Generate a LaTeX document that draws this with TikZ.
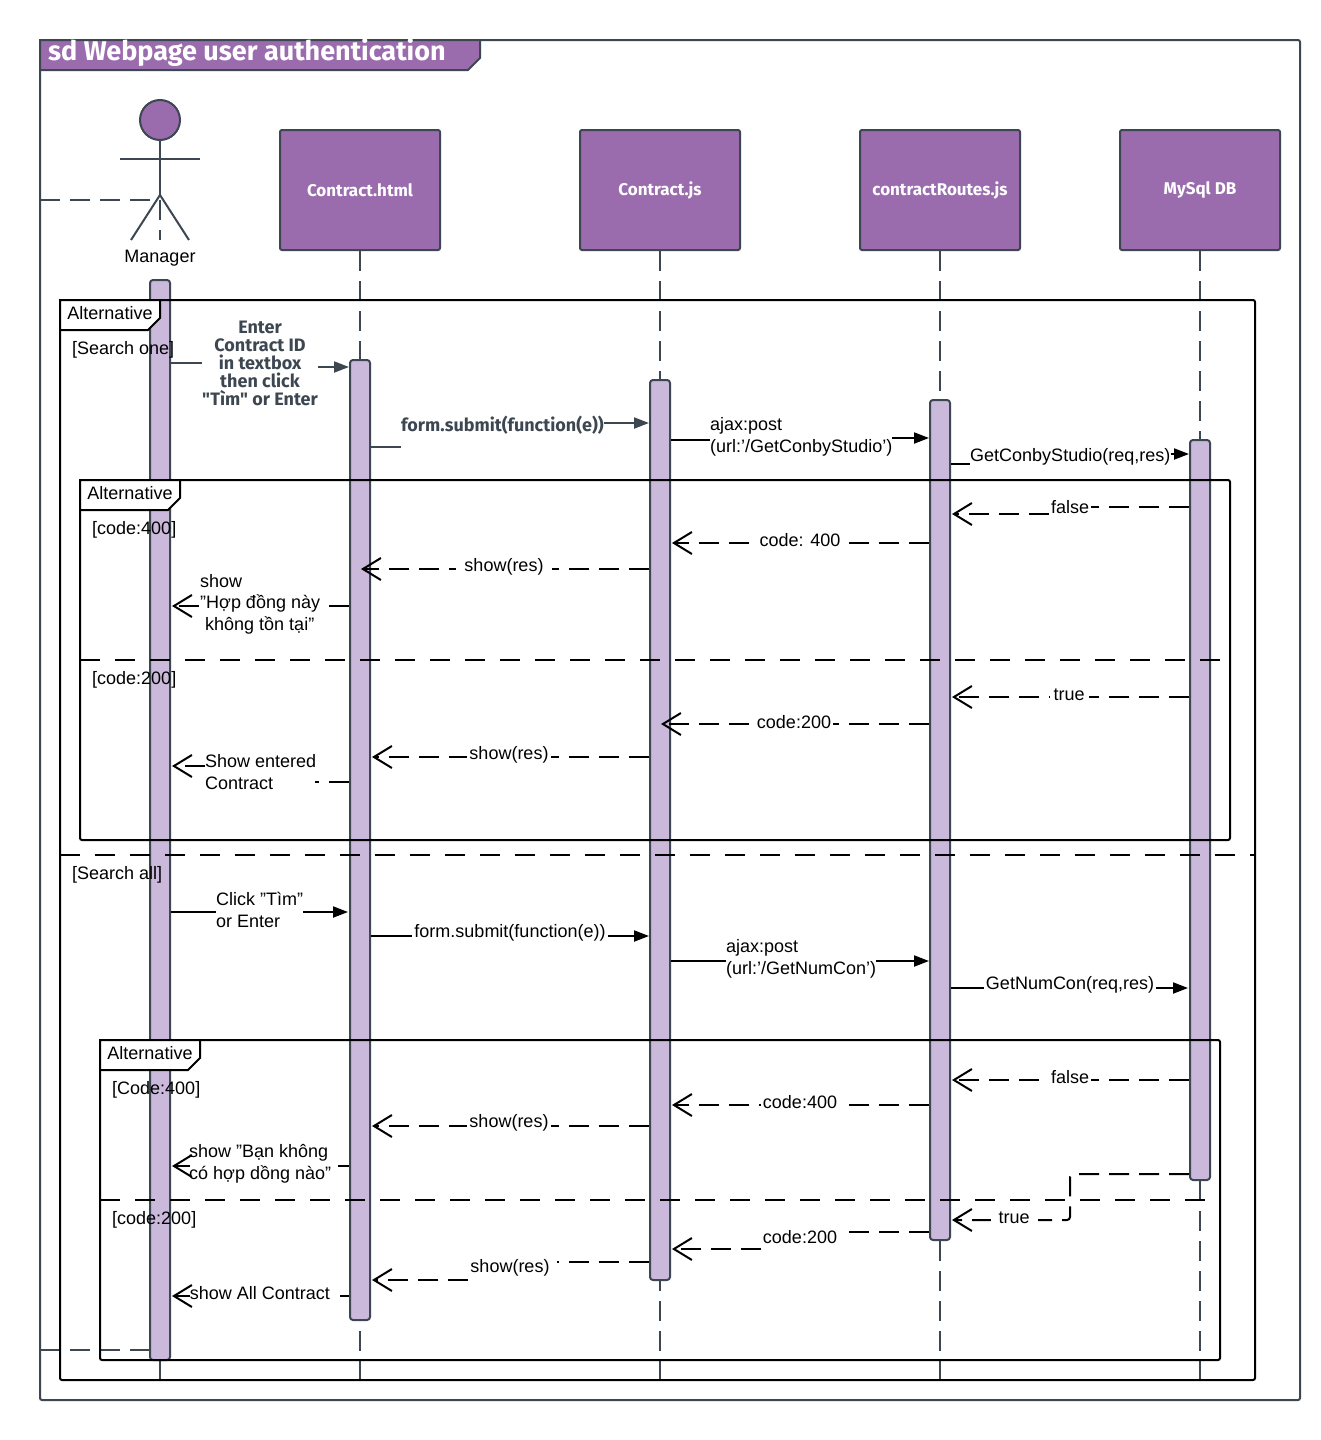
\documentclass[tikz,border=0pt]{standalone}
\usepackage{fontspec}
\setmainfont{Liberation Sans}
\newfontfamily\firafont{Fira Sans}
\usetikzlibrary{arrows.meta}
\definecolor{darkline}{HTML}{3D4752}
\definecolor{headpurple}{HTML}{9A6CAE}
\definecolor{barpurple}{HTML}{CBB9DB}
\begin{document}
\begin{tikzpicture}[x=1pt, y=-1pt, font=\fontsize{18}{21.5}\selectfont,
        headbox/.style = {draw=darkline, fill=headpurple, line width=2pt, rounded corners=2pt, minimum width=160pt, minimum height=120pt, inner sep=0pt, text=white, font=\firafont\bfseries\fontsize{17}{20}\selectfont},
        actbar/.style = {draw=darkline, fill=barpurple, line width=2pt, rounded corners=3pt, minimum width=20pt, inner sep=0pt},
        lifeline/.style = {draw=darkline, line width=2pt, dash pattern=on 20pt off 10pt},
        frameline/.style = {draw=black, line width=2pt, rounded corners=2pt},
        tabbox/.style = {draw=black, fill=white, line width=2pt},
        divider/.style = {draw=black, line width=2pt, dash pattern=on 20pt off 15pt},
        callmsg/.style = {draw=black, line width=2pt},
        callarrow/.style = {callmsg, -{Triangle[length=15pt,width=11pt]}},
        darkmsg/.style = {draw=darkline, line width=2pt},
        darkarrow/.style = {darkmsg, -{Triangle[length=15pt,width=11pt]}},
        replymsg/.style = {draw=black, line width=2pt, dash pattern=on 20pt off 10pt},
        replyarrow/.style = {replymsg, -{Straight Barb[length=18pt,width=22pt,line width=2pt]}},
        msglabel/.style = {fill=white, inner xsep=2pt, inner ysep=1pt},
        leftlabel/.style = {fill=white, inner sep=0pt, align=left, anchor=west},
        guard/.style = {inner sep=0pt, anchor=west},
        darklabel/.style = {inner sep=0pt, text=darkline, font=\firafont\bfseries\fontsize{18}{18}\selectfont}]
        \useasboundingbox (0,0) rectangle (1320,1440);
        \fill[white] (0,0) rectangle (1320,1440);
        % outer frame and title
        \draw[darkline, line width=2pt, rounded corners=2pt] (40,40) rectangle (1300,1400);
        \draw[darkline, fill=headpurple, line width=2pt] (40,40) -- (480,40) -- (480,58) -- (468,70) -- (40,70) -- cycle;
        \node[inner sep=0pt, anchor=west, text=white, font=\firafont\bfseries\fontsize{27}{30}\selectfont] (title) at (48,53) {sd Webpage user authentication};
        % participants
        \node[headbox] (htmlbox) at (360,190) {Contract.html};
        \node[headbox] (jsbox) at (660,190) {Contract.js};
        \node[headbox] (routesbox) at (940,190) {contractRoutes.js};
        \node[headbox] (dbbox) at (1200,190) {MySql DB};
        \node[draw=darkline, fill=headpurple, line width=2pt, circle, minimum size=40pt, inner sep=0pt] (head) at (160,120) {};
        \coordinate (hip) at (160,195);
        \coordinate (armL) at (120,159);
        \coordinate (armR) at (200,159);
        \coordinate (footL) at (131,240);
        \coordinate (footR) at (189,240);
        \draw[darkmsg] (head) -- (hip);
        \draw[darkmsg] (armL) -- (armR);
        \draw[darkmsg] (footL) -- (hip) -- (footR);
        \node[inner sep=0pt] (manager) at (160,258) {Manager};
        % lifelines
        \coordinate (mgrTop) at (160,200);
        \coordinate (mgrMid) at (160,240);
        \coordinate (mgrEnd) at (160,1390);
        \coordinate (htmlEnd) at (360,1390);
        \coordinate (jsEnd) at (660,1390);
        \coordinate (routesEnd) at (940,1390);
        \coordinate (dbEnd) at (1200,1390);
        \coordinate (foundL) at (40,200);
        \coordinate (lostL) at (40,1350);
        \draw[lifeline] (mgrTop) -- (mgrMid);
        \draw[lifeline] (foundL) -- (hip |- foundL);
        \draw[lifeline] (htmlbox.south) -- (htmlEnd);
        \draw[lifeline] (jsbox.south) -- (jsEnd);
        \draw[lifeline] (routesbox.south) -- (routesEnd);
        \draw[lifeline] (dbbox.south) -- (dbEnd);
        \draw[lifeline] (160,1360) -- (mgrEnd);
        % activation bars
        \node[actbar, minimum height=1080pt] (mgrbar) at (160,820) {};
        \node[actbar, minimum height=960pt] (htmlbar) at (360,840) {};
        \node[actbar, minimum height=900pt] (jsbar) at (660,830) {};
        \node[actbar, minimum height=840pt] (routesbar) at (940,820) {};
        \node[actbar, minimum height=740pt] (dbbar) at (1200,810) {};
        \draw[lifeline] (lostL) -- (mgrbar.west |- lostL);
        % fragments
        \draw[frameline] (60,300) rectangle (1255,1380);
        \draw[tabbox] (60,300) -- (160,300) -- (160,318) -- (148,330) -- (60,330) -- cycle;
        \node[inner sep=0pt] (alt1) at (110,313) {Alternative};
        \node[guard] (searchOne) at (72,350) {[Search one]};
        \coordinate (div1L) at (60,855);
        \coordinate (div1R) at (1255,855);
        \draw[divider] (div1L) -- (div1R);
        \node[guard] (searchAll) at (72,875) {[Search all]};
        \draw[frameline] (80,480) rectangle (1230,840);
        \draw[tabbox] (80,480) -- (180,480) -- (180,498) -- (168,510) -- (80,510) -- cycle;
        \node[inner sep=0pt] (alt2) at (130,493) {Alternative};
        \node[guard] (codeA) at (92,530) {[code:400]};
        \coordinate (div2L) at (80,660);
        \coordinate (div2R) at (1220,660);
        \draw[divider] (div2L) -- (div2R);
        \node[guard] (codeB) at (92,680) {[code:200]};
        \draw[frameline] (100,1040) rectangle (1220,1360);
        \draw[tabbox] (100,1040) -- (200,1040) -- (200,1058) -- (188,1070) -- (100,1070) -- cycle;
        \node[inner sep=0pt] (alt3) at (150,1053) {Alternative};
        \node[guard] (codeC) at (112,1090) {[Code:400]};
        \coordinate (div3L) at (100,1200);
        \coordinate (div3R) at (1205,1200);
        \draw[divider] (div3L) -- (div3R);
        \node[guard] (codeD) at (112,1220) {[code:200]};
        % search one
        \node[darklabel, align=center] (enterLbl) at (260,363) {Enter\\Contract ID\\in textbox\\then click\\"Tìm" or Enter};
        \coordinate (enterTip) at (349,367);
        \draw[darkmsg] (mgrbar.east |- enterLbl.west) -- (enterLbl.west);
        \draw[darkarrow] (enterLbl.east |- enterTip) -- (enterTip);
        \node[darklabel, anchor=west] (submitLbl) at (401,425) {form.submit(function(e))};
        \coordinate (submitTail) at (401,447);
        \coordinate (submitTip) at (649,423);
        \draw[darkmsg] (htmlbar.east |- submitTail) -- (submitTail);
        \draw[darkarrow] (submitLbl.east |- submitTip) -- (submitTip);
        \node[leftlabel] (ajaxLbl) at (710,437) {ajax:post\\(url:'/GetConbyStudio')};
        \coordinate (ajaxTail) at (710,440);
        \coordinate (ajaxTip) at (929,438);
        \draw[callmsg] (jsbar.east |- ajaxTail) -- (ajaxTail);
        \draw[callarrow] (ajaxLbl.east |- ajaxTip) -- (ajaxTip);
        \node[leftlabel] (conbyLbl) at (970,457) {GetConbyStudio(req,res)};
        \coordinate (conbyTail) at (970,464);
        \coordinate (conbyTip) at (1189,454);
        \draw[callmsg] (routesbar.east |- conbyTail) -- (conbyTail);
        \draw[callarrow] (conbyLbl.east |- conbyTip) -- (conbyTip);
        \node[msglabel] (falseA) at (1070,507) {false};
        \coordinate (falseATip) at (952,514);
        \draw[replymsg] (dbbar.west |- falseA) -- (falseA.east);
        \draw[replyarrow] (falseA.west |- falseATip) -- (falseATip);
        \coordinate (codeATip) at (672,543);
        \draw[replyarrow] (routesbar.west |- codeATip) -- (codeATip);
        \node[msglabel] (codeALbl) at (800,540) {code: 400};
        \coordinate (showATip) at (361,569);
        \draw[replyarrow] (jsbar.west |- showATip) -- (showATip);
        \node[msglabel, inner xsep=8pt] (showALbl) at (504,567) {show(res)};
        \coordinate (hopTip) at (172,606);
        \draw[replyarrow] (htmlbar.west |- hopTip) -- (hopTip);
        \node[leftlabel] (hopLbl) at (200,604) {show\\"Hợp đồng này\\\hspace*{5pt}không tồn tại"};
        \coordinate (trueATip) at (952,697);
        \draw[replyarrow] (dbbar.west |- trueATip) -- (trueATip);
        \node[msglabel, inner xsep=4pt] (trueALbl) at (1069,695) {true};
        \coordinate (codeBTip) at (661,724);
        \draw[replyarrow] (routesbar.west |- codeBTip) -- (codeBTip);
        \node[msglabel] (codeBLbl) at (794,722) {code:200};
        \coordinate (showBTip) at (372,757);
        \draw[replyarrow] (jsbar.west |- showBTip) -- (showBTip);
        \node[msglabel] (showBLbl) at (509,755) {show(res)};
        \node[leftlabel] (enteredLbl) at (205,772) {Show entered\\Contract};
        \coordinate (enteredTail) at (315,782);
        \coordinate (enteredTip) at (172,766);
        \draw[replymsg] (htmlbar.west |- enteredTail) -- (enteredTail);
        \draw[replyarrow] (enteredLbl.west |- enteredTip) -- (enteredTip);
        % search all
        \coordinate (clickTip) at (348,912);
        \draw[callarrow] (mgrbar.east |- clickTip) -- (clickTip);
        \node[leftlabel, inner xsep=0pt] (clickLbl) at (216,910) {Click "Tìm"\hspace{22pt}\\or Enter};
        \coordinate (submitBTip) at (649,936);
        \draw[callarrow] (htmlbar.east |- submitBTip) -- (submitBTip);
        \node[msglabel] (submitBLbl) at (510,933) {form.submit(function(e))};
        \coordinate (ajaxBTip) at (929,961);
        \draw[callarrow] (jsbar.east |- ajaxBTip) -- (ajaxBTip);
        \node[leftlabel] (ajaxBLbl) at (726,959) {ajax:post\\(url:'/GetNumCon')};
        \coordinate (numTip) at (1188,988);
        \draw[callarrow] (routesbar.east |- numTip) -- (numTip);
        \node[msglabel] (numLbl) at (1070,985) {GetNumCon(req,res)};
        \coordinate (falseBTip) at (952,1080);
        \draw[replyarrow] (dbbar.west |- falseBTip) -- (falseBTip);
        \node[msglabel] (falseBLbl) at (1070,1077) {false};
        \coordinate (codeCTip) at (672,1105);
        \draw[replyarrow] (routesbar.west |- codeCTip) -- (codeCTip);
        \node[msglabel] (codeCLbl) at (800,1102) {code:400};
        \coordinate (showCTip) at (372,1126);
        \draw[replyarrow] (jsbar.west |- showCTip) -- (showCTip);
        \node[msglabel] (showCLbl) at (509,1123) {show(res)};
        \node[leftlabel] (banLbl) at (189,1164) {show "Bạn không\\có hợp dồng nào"};
        \coordinate (banTail) at (338,1166);
        \coordinate (banTip) at (172,1166);
        \coordinate (banStub) at (190,1166);
        \draw[replymsg] (htmlbar.west |- banTail) -- (banTail);
        \draw[replyarrow] (banStub) -- (banTip);
        \coordinate (trueBTip) at (952,1220);
        \coordinate (bendT) at (1070,1174);
        \coordinate (bendB) at (1070,1220);
        \draw[replyarrow, rounded corners=3pt] (dbbar.west |- bendT) -- (bendT) -- (bendB) -- (trueBTip);
        \node[msglabel, inner xsep=8pt] (trueBLbl) at (1014,1218) {true};
        \node[msglabel] (codeDLbl) at (800,1237) {code:200};
        \coordinate (codeDTail) at (845,1232);
        \coordinate (codeDTip) at (672,1249);
        \draw[replymsg] (routesbar.west |- codeDTail) -- (codeDTail);
        \draw[replyarrow] (codeDLbl.west |- codeDTip) -- (codeDTip);
        \node[msglabel] (showDLbl) at (510,1268) {show(res)};
        \coordinate (showDTail) at (557,1262);
        \coordinate (showDTip) at (372,1280);
        \draw[replymsg] (jsbar.west |- showDTail) -- (showDTail);
        \draw[replyarrow] (showDLbl.west |- showDTip) -- (showDTip);
        \node[inner sep=0pt] (allLbl) at (260,1293) {show All Contract};
        \coordinate (allTail) at (340,1296);
        \coordinate (allTip) at (172,1296);
        \coordinate (allStub) at (190,1296);
        \draw[replymsg] (htmlbar.west |- allTail) -- (allTail);
        \draw[replyarrow] (allStub) -- (allTip);
    \end{tikzpicture}
\end{document}
